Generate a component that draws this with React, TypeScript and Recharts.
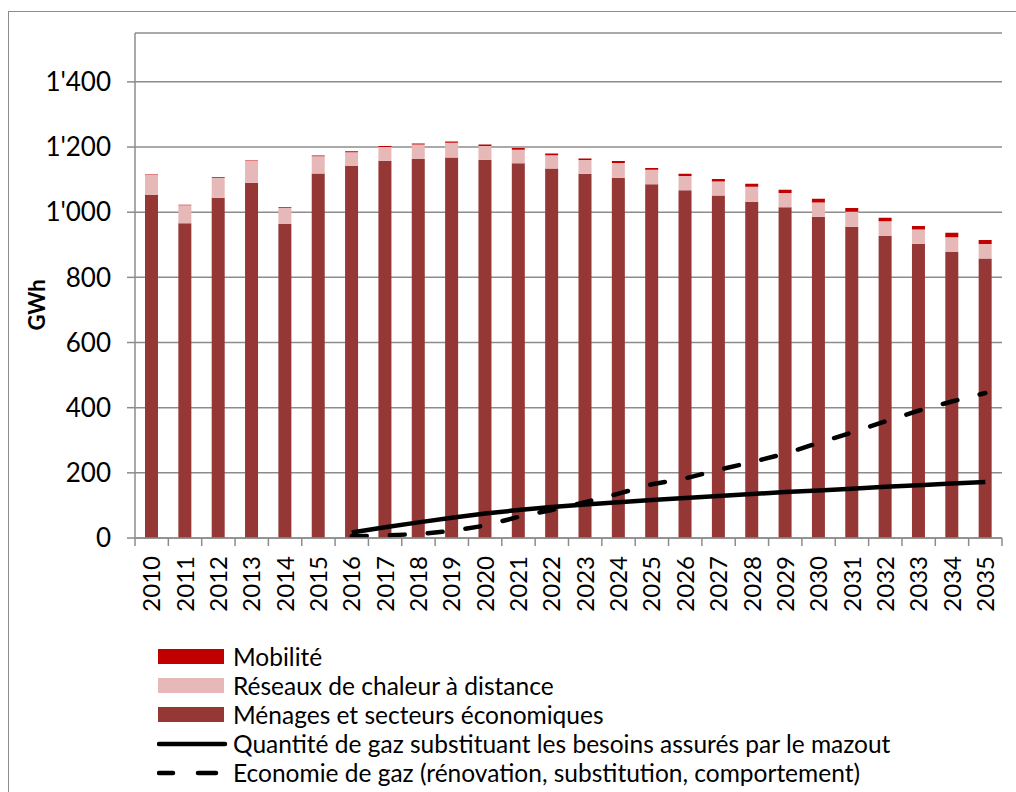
import React from 'react';
import { ComposedChart, Bar, Line, XAxis, YAxis, CartesianGrid } from 'recharts';

const years = ['2010','2011','2012','2013','2014','2015','2016','2017','2018','2019','2020','2021','2022','2023','2024','2025','2026','2027','2028','2029','2030','2031','2032','2033','2034','2035'];
const menages = [1053,966,1044,1090,964,1119,1142,1158,1163,1168,1161,1150,1134,1118,1106,1086,1067,1051,1032,1015,986,955,927,903,878,858];
const reseaux = [61,55,61,67,49,53,42,42,45,45,42,42,41,42,45,44,44,43,46,44,44,46,45,44,45,44];
const mobilite = [2,2,2,2,2,2,3,3,3,4,5,5,5,5,6,6,7,8,9,10,11,12,11,11,14,13];
const substitution = [null,null,null,null,null,null,17,33,48,62,75,86,95,103,110,117,123,129,135,141,146,151,157,162,167,172];
const economie = [null,null,null,null,null,null,5,8,12,22,38,65,86,110,136,165,183,209,233,259,292,324,358,391,419,445];
const yTicks = [0,200,400,600,800,1000,1200,1400];

const legendItems = [
  { name: 'Mobilité', kind: 'box', color: '#C00000' },
  { name: 'Réseaux de chaleur à distance', kind: 'box', color: '#E6B9B8' },
  { name: 'Ménages et secteurs économiques', kind: 'box', color: '#953735' },
  { name: 'Quantité de gaz substituant les besoins assurés par le mazout', kind: 'solid', color: '#000' },
  { name: 'Economie de gaz (rénovation, substitution, comportement)', kind: 'dash', color: '#000' },
];

const data = years.map((y, i) => ({
  year: y,
  menages: menages[i],
  reseaux: reseaux[i],
  mobilite: mobilite[i],
  substitution: substitution[i],
  economie: economie[i],
}));

const FONT = 'Lato, "Open Sans", sans-serif';

const fmt = (v: number) => {
  if (v >= 1000) {
    const th = Math.floor(v / 1000);
    return `${th}'${String(v % 1000).padStart(3, '0')}`;
  }
  return String(v);
};

const XTick = (props: any) => {
  const { x, y, payload, width, visibleTicksCount, index } = props;
  const band = width / visibleTicksCount;
  const axisY = y - 18;
  return (
    <g>
      <line x1={x - band / 2} x2={x - band / 2} y1={axisY} y2={axisY + 8} stroke="#8c8c8c" strokeWidth={1.5} />
      {index === visibleTicksCount - 1 && (
        <line x1={x + band / 2} x2={x + band / 2} y1={axisY} y2={axisY + 8} stroke="#8c8c8c" strokeWidth={1.5} />
      )}
      <text
        x={x}
        y={y}
        transform={`rotate(-90 ${x} ${y})`}
        textAnchor="end"
        dy="0.36em"
        fontSize={24}
        fontFamily={FONT}
        fill="#000"
      >
        {payload.value}
      </text>
    </g>
  );
};

const LegendBox = () => (
  <div style={{ position: 'absolute', left: 157, top: 642, fontFamily: FONT, fontSize: 24.5, color: '#000' }}>
    {legendItems.map((it) => (
      <div key={it.name} style={{ display: 'flex', alignItems: 'center', height: 29 }}>
        <svg width={76} height={20} style={{ display: 'block', flex: 'none' }}>
          {it.kind === 'box' && <rect x={1} y={2} width={66} height={15} fill={it.color} />}
          {it.kind === 'solid' && <line x1={2} x2={68} y1={10} y2={10} stroke={it.color} strokeWidth={4.5} strokeLinecap="round" />}
          {it.kind === 'dash' && (
            <g>
              <line x1={2} x2={16} y1={10} y2={10} stroke={it.color} strokeWidth={4.5} strokeLinecap="round" />
              <line x1={41} x2={59} y1={10} y2={10} stroke={it.color} strokeWidth={4.5} strokeLinecap="round" />
            </g>
          )}
        </svg>
        <span style={{ whiteSpace: 'nowrap', lineHeight: '29px' }}>{it.name}</span>
      </div>
    ))}
  </div>
);

export default function App() {
  return (
    <div style={{ position: 'relative', width: 1016, height: 792, background: '#fff', overflow: 'hidden' }}>
      <style>{`body{margin:0;}`}</style>
      <div style={{ position: 'absolute', left: 8, top: 11, width: 1100, height: 900, borderLeft: '1.5px solid #8c8c8c', borderTop: '1.5px solid #8c8c8c' }} />
      <ComposedChart
        width={1016}
        height={792}
        data={data}
        margin={{ top: 33, right: 14, bottom: 174, left: 0 }}
        barCategoryGap={0}
        style={{ position: 'absolute', left: 0, top: 0 }}
      >
        <CartesianGrid vertical={false} stroke="#8c8c8c" strokeWidth={1.5} />
        <XAxis
          dataKey="year"
          interval={0}
          height={80}
          tickLine={false}
          tickSize={8}
          tickMargin={10}
          axisLine={{ stroke: '#8c8c8c', strokeWidth: 1.5 }}
          tick={<XTick />}
        />
        <YAxis
          width={135}
          domain={[0, 1550]}
          ticks={yTicks}
          allowDataOverflow
          tickFormatter={fmt}
          tickSize={8}
          tickMargin={16}
          tickLine={{ stroke: '#8c8c8c', strokeWidth: 1.5 }}
          axisLine={{ stroke: '#8c8c8c', strokeWidth: 1.5 }}
          tick={{ fontSize: 26, fontFamily: FONT, fill: '#000' }}
          label={{
            content: () => (
              <text x={37} y={305} transform="rotate(-90 37 305)" textAnchor="middle" dy="0.35em" fontSize={22} fontWeight="bold" fontFamily={FONT} fill="#000">
                GWh
              </text>
            ),
          }}
        />
        <Bar dataKey="menages" stackId="a" fill="#953735" barSize={13} isAnimationActive={false} />
        <Bar dataKey="reseaux" stackId="a" fill="#E6B9B8" barSize={13} isAnimationActive={false} />
        <Bar dataKey="mobilite" stackId="a" fill="#C00000" barSize={13} isAnimationActive={false} />
        <Line dataKey="substitution" type="linear" stroke="#000" strokeWidth={4.5} dot={false} activeDot={false} isAnimationActive={false} />
        <Line dataKey="economie" type="linear" stroke="#000" strokeWidth={4.5} strokeDasharray="15 23" strokeLinecap="round" dot={false} activeDot={false} isAnimationActive={false} />
      </ComposedChart>
      <LegendBox />
    </div>
  );
}
